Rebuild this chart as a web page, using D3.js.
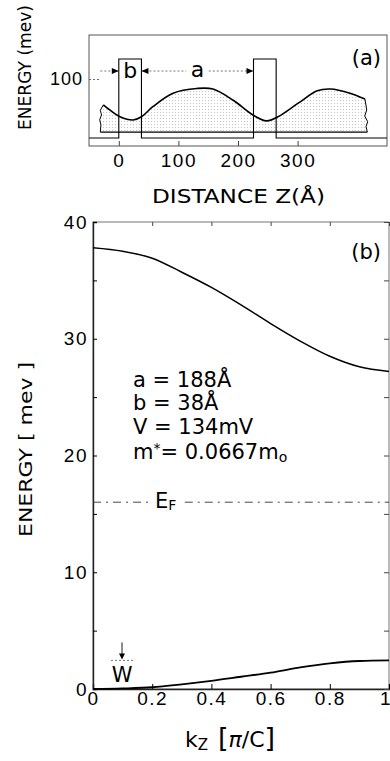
<!DOCTYPE html>
<html>
<head>
<meta charset="utf-8">
<script src="https://cdn.jsdelivr.net/npm/d3@7"></script>
<style>
  html, body { margin: 0; padding: 0; background: #fff; }
  svg { display: block; font-family: "DejaVu Sans", sans-serif; }
</style>
</head>
<body>
<svg id="chart" width="390" height="761"></svg>
<script>
// panel (a): superlattice potential + wavefunction
const barrierStarts = [0, 226];      // Å
const barrierWidth = 38;             // b
const barrierHeight = 134;           // V in meV
const zTicks = [0, 100, 200, 300];
const eTicksA = [100];

const psiZ = [-26, -12, 2, 24, 38, 57, 91, 131, 158, 192, 225, 248, 267, 301, 333, 355, 388, 413];
const psiE = [56, 45, 36, 30.5, 36, 53, 76, 84, 83, 64, 39, 29, 36, 59, 80, 83, 76, 66];
const psiBase = 10;
const leftEdgeZ = [-26, -31, -29, -32, -30, -31];
const leftEdgeE = [56, 47, 39, 31, 22, 10];
const rightEdgeZ = [413, 416, 412.6, 417.6, 414.8, 417];
const rightEdgeE = [66, 47.5, 37.3, 27.6, 19.2, 10];
const arrowE = 113.6;

// panel (b): miniband dispersion
const kz = [0, 0.1, 0.2, 0.3, 0.4, 0.5, 0.6, 0.7, 0.8, 0.9, 1];
const upperBand = [37.8, 37.5, 36.9, 35.7, 34.4, 32.9, 31.3, 29.8, 28.5, 27.6, 27.2];
const lowerBand = [0, 0.05, 0.15, 0.4, 0.7, 1.05, 1.4, 1.85, 2.2, 2.4, 2.45];
const fermiE = 16;
const kTicks = [0, 0.2, 0.4, 0.6, 0.8, 1];
const eTicksB = [0, 5, 10, 15, 20, 25, 30, 35, 40];

const svg = d3.select("#chart");
const frame = "#444";

// ---------- panel (a) ----------
const A = { left: 89, right: 387, top: 35, bottom: 146 };
const xa = d3.scaleLinear().domain([-50, 450]).range([A.left, A.right]);
const ya = d3.scaleLinear().domain([-13.6, 174.7]).range([A.bottom, A.top]);

const defs = svg.append("defs");
const pat = defs.append("pattern").attr("id", "stipple")
  .attr("width", 3).attr("height", 3).attr("patternUnits", "userSpaceOnUse");
pat.append("rect").attr("x", 1).attr("y", 1).attr("width", 1).attr("height", 1).attr("fill", "#c4c4c4");

const ga = svg.append("g");

// stippled wavefunction area
const curvePts = psiZ.map((z, i) => [xa(z), ya(psiE[i])]);
const rightPts = rightEdgeZ.map((z, i) => [xa(z), ya(rightEdgeE[i])]);
const leftPts = leftEdgeZ.map((z, i) => [xa(z), ya(leftEdgeE[i])]);
const smooth = d3.line().curve(d3.curveCatmullRom);
const straight = d3.line();
const areaPath = smooth(curvePts) + "L" + straight(rightPts).slice(1) +
  "L" + straight(leftPts.slice().reverse()).slice(1) + "Z";
ga.append("path").attr("d", areaPath).attr("fill", "url(#stipple)").attr("stroke", "none");
ga.append("path").attr("d", smooth(curvePts)).attr("fill", "none").attr("stroke", "#000").attr("stroke-width", 1.6);
ga.append("path").attr("d", straight(rightPts)).attr("fill", "none").attr("stroke", "#000").attr("stroke-width", 1);
ga.append("path").attr("d", straight(leftPts)).attr("fill", "none").attr("stroke", "#000").attr("stroke-width", 1);
ga.append("line")
  .attr("x1", xa(leftEdgeZ[leftEdgeZ.length - 1])).attr("x2", xa(rightEdgeZ[rightEdgeZ.length - 1]))
  .attr("y1", ya(psiBase)).attr("y2", ya(psiBase))
  .attr("stroke", "#000").attr("stroke-width", 1.2);

// potential profile
const potPts = [[-50, 0]];
barrierStarts.forEach(s => {
  potPts.push([s, 0], [s, barrierHeight], [s + barrierWidth, barrierHeight], [s + barrierWidth, 0]);
});
potPts.push([450, 0]);
ga.append("path")
  .attr("d", straight(potPts.map(p => [xa(p[0]), ya(p[1])])))
  .attr("fill", "none").attr("stroke", "#000").attr("stroke-width", 1.1);

// frame
ga.append("rect").attr("x", A.left).attr("y", A.top)
  .attr("width", A.right - A.left).attr("height", A.bottom - A.top)
  .attr("fill", "none").attr("stroke", frame).attr("stroke-width", 0.9);

// axes
const axA = ga.append("g").attr("transform", `translate(0,${A.bottom})`)
  .call(d3.axisBottom(xa).tickValues(zTicks).tickSize(-5).tickPadding(8));
axA.select(".domain").remove();
axA.selectAll("line").attr("stroke", frame);
axA.selectAll("text").attr("font-size", 19).attr("letter-spacing", 1.5).attr("fill", "#000");

const ayA = ga.append("g").attr("transform", `translate(${A.left},0)`)
  .call(d3.axisLeft(ya).tickValues(eTicksA).tickSize(-10).tickPadding(6));
ayA.select(".domain").remove();
ayA.selectAll("line").attr("stroke", "#666").attr("stroke-dasharray", "2,2");
ayA.selectAll("text").attr("font-size", 18).attr("letter-spacing", 1).attr("fill", "#000");

// a / b dimension arrows
function arrowHead(g, x, y, dir) {
  g.append("path")
    .attr("d", `M${x},${y}L${x - dir * 7},${y - 3}L${x - dir * 7},${y + 3}Z`)
    .attr("fill", "#000");
}
const yArr = ya(arrowE);
const dim = ga.append("g");
[[-31, 0], [barrierWidth, 113], [151, barrierStarts[1]]].forEach(([z0, z1]) => {
  dim.append("line").attr("x1", xa(z0)).attr("x2", xa(z1)).attr("y1", yArr).attr("y2", yArr)
    .attr("stroke", "#555").attr("stroke-width", 0.8).attr("stroke-dasharray", "2,2");
});
arrowHead(dim, xa(0), yArr, 1);
arrowHead(dim, xa(barrierWidth), yArr, -1);
arrowHead(dim, xa(barrierStarts[1]), yArr, 1);
dim.append("text").attr("x", xa(barrierWidth / 2)).attr("y", yArr + 7)
  .attr("text-anchor", "middle").attr("font-size", 22).text("b");
dim.append("text").attr("x", xa(barrierWidth + 188 / 2)).attr("y", yArr + 6)
  .attr("text-anchor", "middle").attr("font-size", 22).text("a");

ga.append("text").attr("x", 381).attr("y", 65).attr("text-anchor", "end")
  .attr("font-size", 21).text("(a)");

ga.append("text").attr("x", 152).attr("y", 203)
  .attr("font-size", 19).attr("textLength", 173).attr("lengthAdjust", "spacingAndGlyphs")
  .text("DISTANCE  Z(Å)");

ga.append("text").attr("transform", "translate(31,130) rotate(-90)")
  .attr("font-size", 17).attr("textLength", 125).attr("lengthAdjust", "spacingAndGlyphs")
  .text("ENERGY (mev)");

// ---------- panel (b) ----------
const B = { left: 93, right: 389, top: 222, bottom: 689 };
const xb = d3.scaleLinear().domain([0, 1]).range([B.left, B.right]);
const yb = d3.scaleLinear().domain([0, 40]).range([B.bottom, B.top]);
const gb = svg.append("g");

gb.append("rect").attr("x", B.left).attr("y", B.top)
  .attr("width", B.right - B.left).attr("height", B.bottom - B.top)
  .attr("fill", "none").attr("stroke", "#666").attr("stroke-width", 0.9);

const fmtK = d => d === 0 ? "0" : d === 1 ? "1" : d.toFixed(1);
const bx = gb.append("g").attr("transform", `translate(0,${B.bottom})`)
  .call(d3.axisBottom(xb).tickValues(kTicks).tickSize(-5).tickPadding(2).tickFormat(fmtK));
bx.select(".domain").attr("stroke", "#222").attr("stroke-width", 1.4);
bx.selectAll("text").attr("font-size", 19).attr("letter-spacing", 1.5).attr("fill", "#000");
bx.selectAll(".tick").filter(d => d === 1).select("text")
  .attr("text-anchor", "end").attr("x", 1).attr("letter-spacing", 0);
const tx = gb.append("g").attr("transform", `translate(0,${B.top})`)
  .call(d3.axisTop(xb).tickValues(kTicks).tickSize(-4).tickFormat(""));
tx.select(".domain").remove();
tx.selectAll("line").attr("stroke", frame);

const by = gb.append("g").attr("transform", `translate(${B.left},0)`)
  .call(d3.axisLeft(yb).tickValues(eTicksB).tickSize(-4).tickPadding(5)
    .tickFormat(d => d % 10 === 0 ? d : ""));
by.select(".domain").attr("stroke", "#222").attr("stroke-width", 1.4);
by.selectAll("text").attr("font-size", 19).attr("letter-spacing", 1.5).attr("fill", "#000");
const ry = gb.append("g").attr("transform", `translate(${B.right},0)`)
  .call(d3.axisRight(yb).tickValues(eTicksB).tickSize(-5).tickFormat(""));
ry.select(".domain").remove();
ry.selectAll("line").attr("stroke", frame);

const bandLine = d3.line().x((d, i) => xb(kz[i])).y(d => yb(d)).curve(d3.curveMonotoneX);
gb.append("path").datum(upperBand).attr("d", bandLine)
  .attr("fill", "none").attr("stroke", "#000").attr("stroke-width", 1.5);
gb.append("path").datum(lowerBand).attr("d", bandLine)
  .attr("fill", "none").attr("stroke", "#000").attr("stroke-width", 1.8);

// Fermi level
[[0, 0.2], [0.31, 1]].forEach(([k0, k1]) => {
  gb.append("line").attr("x1", xb(k0)).attr("x2", xb(k1))
    .attr("y1", yb(fermiE)).attr("y2", yb(fermiE))
    .attr("stroke", "#333").attr("stroke-width", 0.9).attr("stroke-dasharray", "8,5,2,5");
});
const ef = gb.append("text").attr("x", 155).attr("y", yb(fermiE) + 6).attr("font-size", 21);
ef.append("tspan").text("E");
ef.append("tspan").attr("font-size", 14).attr("dy", 2).text("F");

// band width W
const wTop = lowerBand[lowerBand.length - 1];
const kW = 0.098;
gb.append("line").attr("x1", xb(kW) - 11).attr("x2", xb(kW) + 11)
  .attr("y1", yb(wTop)).attr("y2", yb(wTop))
  .attr("stroke", "#555").attr("stroke-width", 0.8).attr("stroke-dasharray", "2,2");
gb.append("line").attr("x1", xb(kW)).attr("x2", xb(kW))
  .attr("y1", yb(wTop) - 18).attr("y2", yb(wTop) - 5)
  .attr("stroke", "#000").attr("stroke-width", 0.9);
gb.append("path")
  .attr("d", `M${xb(kW)},${yb(wTop) - 1}L${xb(kW) - 3},${yb(wTop) - 7}L${xb(kW) + 3},${yb(wTop) - 7}Z`)
  .attr("fill", "#000");
gb.append("text").attr("x", xb(kW)).attr("y", yb(wTop) + 22)
  .attr("text-anchor", "middle").attr("font-size", 21).text("W");

// parameters
const params = gb.append("g").attr("font-size", 21);
params.append("text").attr("x", 133).attr("y", 387).text("a = 188Å");
params.append("text").attr("x", 133).attr("y", 410).text("b = 38Å");
params.append("text").attr("x", 133).attr("y", 434).text("V = 134mV");
const mt = params.append("text").attr("x", 133).attr("y", 459);
mt.append("tspan").text("m");
mt.append("tspan").attr("font-size", 14).attr("dy", -6).text("*");
mt.append("tspan").attr("dy", 6).text("= 0.0667m");
mt.append("tspan").attr("font-size", 14).attr("dy", 3).text("o");

gb.append("text").attr("x", 381).attr("y", 259).attr("text-anchor", "end")
  .attr("font-size", 21).text("(b)");

const kl = gb.append("text").attr("x", 185).attr("y", 747).attr("font-size", 22);
kl.append("tspan").text("k");
kl.append("tspan").attr("font-size", 15).attr("dy", 3).text("Z");
kl.append("tspan").attr("dy", -3).attr("x", 218).attr("font-size", 27).text("[");
kl.append("tspan").attr("font-size", 22).attr("font-style", "italic").text("π");
kl.append("tspan").attr("font-size", 22).text("/C");
kl.append("tspan").attr("font-size", 27).text("]");

gb.append("text").attr("transform", "translate(32,537) rotate(-90)")
  .attr("font-size", 17).attr("textLength", 175).attr("lengthAdjust", "spacingAndGlyphs")
  .text("ENERGY [ mev ]");
</script>
</body>
</html>
